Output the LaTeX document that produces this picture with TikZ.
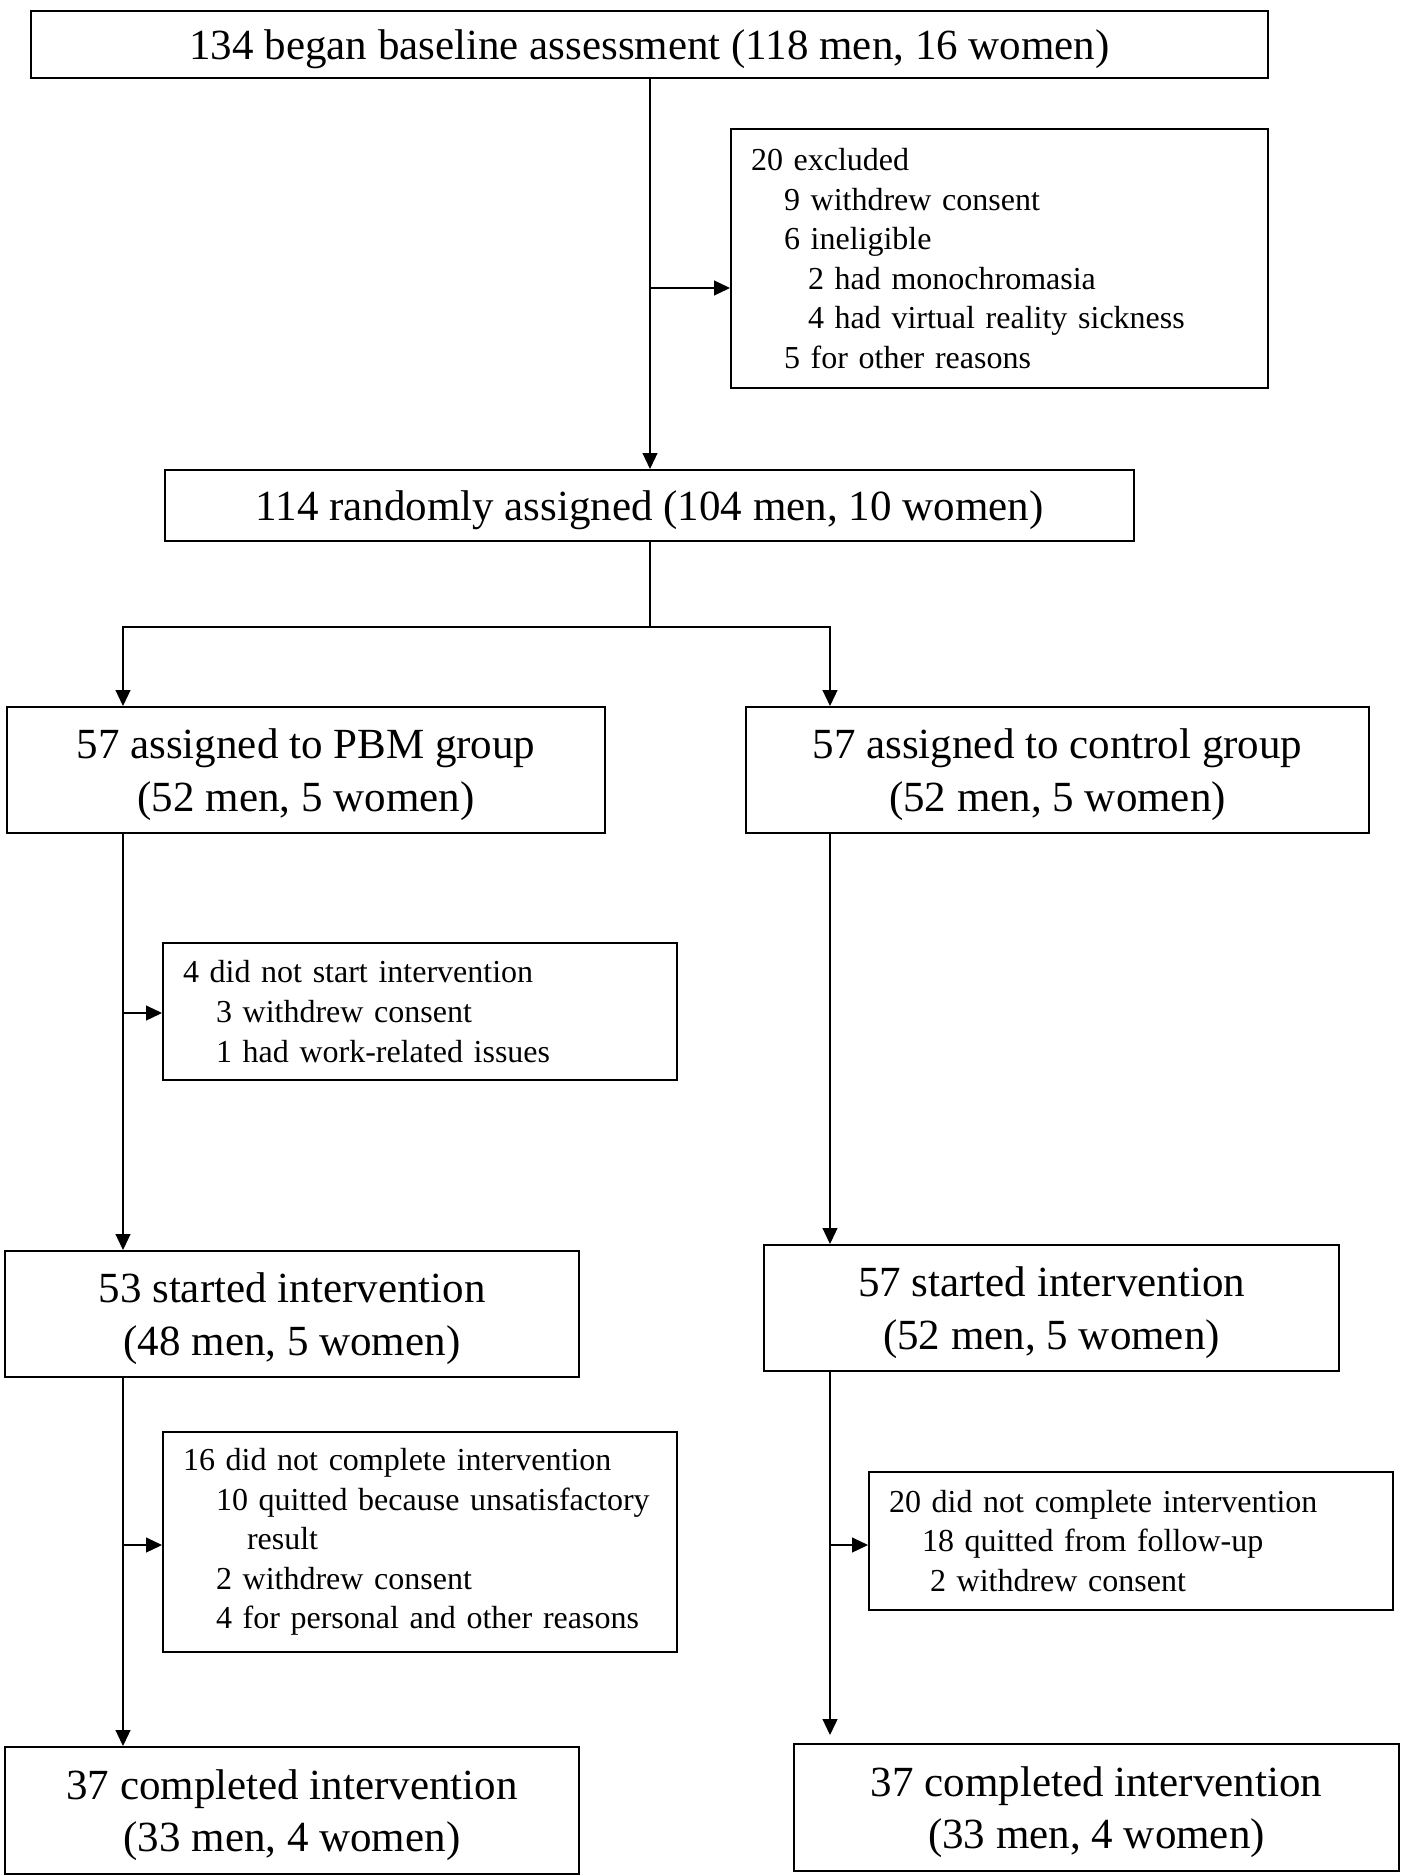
\documentclass[tikz,border=0pt]{standalone}
\usepackage{fontspec}
\setmainfont{Liberation Serif}
\usetikzlibrary{arrows.meta, calc}

\newcommand{\inda}{\hspace*{33pt}}
\newcommand{\indb}{\hspace*{57pt}}

\tikzset{
	bigbox/.style={draw, line width=2pt, align=center, anchor=north west, inner sep=0pt, text depth=0pt, font=\fontsize{43}{52.6}\selectfont},
	notebox/.style={draw, line width=2pt, align=left, anchor=north west, inner xsep=20pt, inner ysep=0pt, font=\fontsize{32}{39.6}\selectfont},
	arr/.style={line width=1.2pt, -{Triangle[length=16pt, width=15pt]}},
	link/.style={line width=1.2pt},
}

\begin{document}
\begin{tikzpicture}[x=1pt, y=-1pt]

	\useasboundingbox (0,0) rectangle (1418,1876);

	% boxes
	\node[bigbox, minimum width=1237pt, minimum height=67pt] (base) at (30,10) {134 began baseline assessment (118 men, 16 women)};
	\node[notebox, text width=497pt, minimum height=259pt] (excl) at (730,128) {20 excluded\\ \inda 9 withdrew consent\\ \inda 6 ineligible\\ \indb 2 had monochromasia\\ \indb 4 had virtual reality sickness\\ \inda 5 for other reasons};
	\node[bigbox, minimum width=969pt, minimum height=71pt] (rand) at (164,469) {114 randomly assigned (104 men, 10 women)};

	\node[bigbox, minimum width=598pt, minimum height=126pt] (pbm) at (6,706) {57 assigned to PBM group\\ (52 men, 5 women)};
	\node[bigbox, minimum width=623pt, minimum height=126pt] (ctrl) at (745,706) {57 assigned to control group\\ (52 men, 5 women)};

	\node[notebox, text width=474pt, minimum height=137pt] (nostart) at (162,942) {4 did not start intervention\\ \inda 3 withdrew consent\\ \inda 1 had work-related issues};

	\node[bigbox, minimum width=574pt, minimum height=126pt] (startA) at (4,1250) {53 started intervention\\ (48 men, 5 women)};
	\node[bigbox, minimum width=575pt, minimum height=126pt] (startB) at (763,1244) {57 started intervention\\ (52 men, 5 women)};

	\node[notebox, text width=474pt, minimum height=220pt] (quitA) at (162,1431) {16 did not complete intervention\\ \inda 10 quitted because unsatisfactory\\ \hspace*{64pt}result\\ \inda 2 withdrew consent\\ \inda 4 for personal and other reasons};
	\node[notebox, text width=484pt, minimum height=138pt] (quitB) at (868,1471) {20 did not complete intervention\\ \inda 18 quitted from follow-up\\ \hspace*{41pt}2 withdrew consent};

	\node[bigbox, minimum width=574pt, minimum height=127pt] (doneA) at (4,1746) {37 completed intervention\\ (33 men, 4 women)};
	\node[bigbox, minimum width=605pt, minimum height=127pt] (doneB) at (793,1743) {37 completed intervention\\ (33 men, 4 women)};

	% connectors
	\coordinate (T) at (650,288);
	\coordinate (S) at (650,627);
	\coordinate (L) at (123,627);
	\coordinate (R) at (830,627);
	\coordinate (LA) at (123,1013);
	\coordinate (LB) at (123,1545);
	\coordinate (RB) at (830,1545);

	\draw[arr] (base.south -| T) -- (rand.north -| T);
	\draw[arr] (T) -- (T -| excl.west);
	\draw[link] (rand.south -| S) -- (S);
	\draw[arr] (S) -- (L) -- (L |- pbm.north);
	\draw[arr] (S) -- (R) -- (R |- ctrl.north);

	\draw[arr] (L |- pbm.south) -- (L |- startA.north);
	\draw[arr] (LA) -- (LA -| nostart.west);
	\draw[arr] (R |- ctrl.south) -- (R |- startB.north);

	\draw[arr] (L |- startA.south) -- (L |- doneA.north);
	\draw[arr] (LB) -- (LB -| quitA.west);
	\draw[arr, shorten >=8pt] (R |- startB.south) -- (R |- doneB.north);
	\draw[arr] (RB) -- (RB -| quitB.west);

\end{tikzpicture}
\end{document}
